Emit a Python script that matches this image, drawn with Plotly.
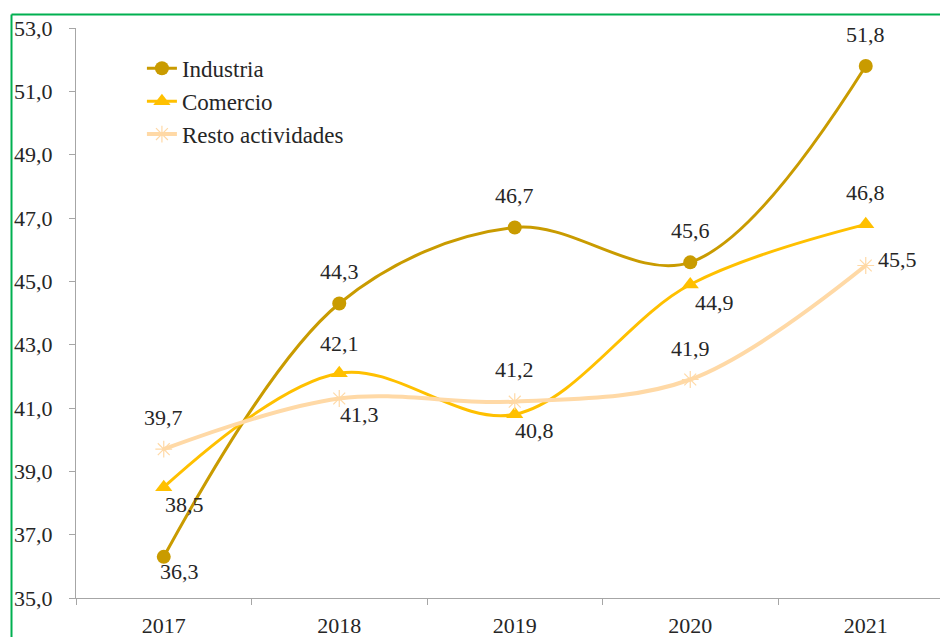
import plotly.graph_objects as go

years = ["2017", "2018", "2019", "2020", "2021"]
industria = [36.3, 44.3, 46.7, 45.6, 51.8]
comercio = [38.5, 42.1, 40.8, 44.9, 46.8]
resto = [39.7, 41.3, 41.2, 41.9, 45.5]

FONT = "Liberation Serif"
TXT = "#262626"

# label offsets (pixels) per point: (xshift, yshift)
ABOVE = (0, 32)
BELOW_R = (20, -16)
off_ind = [(16, -15), ABOVE, ABOVE, ABOVE, ABOVE]
off_com = [(21, -17), (0, 30), BELOW_R, (24, -18), ABOVE]
off_res = [ABOVE, BELOW_R, ABOVE, (0, 31), (32, 6)]

series = [
    ("Industria", industria, "#C99B00", dict(symbol="circle", size=14), 3, off_ind),
    ("Comercio", comercio, "#FFC000", dict(symbol="triangle-up", size=15), 3, off_com),
    ("Resto actividades", resto, "#FFD9A6",
     dict(symbol="asterisk-open", size=14, line=dict(width=1.2, color="#FFD9A6")), 4, off_res),
]

fig = go.Figure()
annotations = []
for i, (name, vals, color, mk, lw, offs) in enumerate(series):
    m = dict(color=color, **mk)
    fig.add_trace(go.Scatter(
        x=years, y=vals, name=name, mode="lines+markers",
        line=dict(color=color, width=lw, shape="spline", smoothing=1.0),
        marker=m, legendgroup=f"g{i}",
    ))
    for k, (v, (dx, dy)) in enumerate(zip(vals, offs)):
        annotations.append(dict(
            x=k, y=v, xref="x", yref="y", text=f"{v:.1f}".replace(".", ","),
            showarrow=False, xshift=dx, yshift=dy,
            font=dict(family=FONT, size=22, color=TXT),
        ))

L, T, B = 76, 28, 39
W, H = 940, 637
pw = W - L
ph = H - T - B
xl = (11.5 - L) / pw
yt = (H - B - 14.5) / ph

fig.update_layout(
    width=W, height=H,
    margin=dict(l=L, r=0, t=T, b=B, pad=0),
    paper_bgcolor="white", plot_bgcolor="white",
    separators=",.",
    showlegend=True,
    legend=dict(x=0.0763, y=0.967, xanchor="left", yanchor="top",
                font=dict(family=FONT, size=23, color=TXT),
                bgcolor="rgba(0,0,0,0)", tracegroupgap=0),
    annotations=annotations,
    shapes=[
        dict(type="line", xref="paper", yref="paper", x0=xl, x1=xl, y0=-0.2, y1=yt,
             line=dict(color="#00B050", width=2)),
        dict(type="line", xref="paper", yref="paper", x0=xl, x1=1.2, y0=yt, y1=yt,
             line=dict(color="#00B050", width=2)),
    ],
)
fig.update_xaxes(
    type="category", range=[-0.5, -0.5 + pw / 175.5],
    showline=True, linecolor="#A6A6A6", linewidth=1,
    ticks="outside", ticklen=6, tickcolor="#A6A6A6", tickson="boundaries",
    showgrid=False, zeroline=False,
    tickfont=dict(family=FONT, size=22, color=TXT),
    ticklabelstandoff=8,
)
fig.update_yaxes(
    range=[35, 53], dtick=2, tick0=35, tickformat=".1f",
    showline=True, linecolor="#A6A6A6", linewidth=1,
    ticks="outside", ticklen=6, tickcolor="#A6A6A6",
    showgrid=False, zeroline=False,
    tickfont=dict(family=FONT, size=22, color=TXT),
    ticklabelstandoff=12,
)

fig.write_html("out.html")
